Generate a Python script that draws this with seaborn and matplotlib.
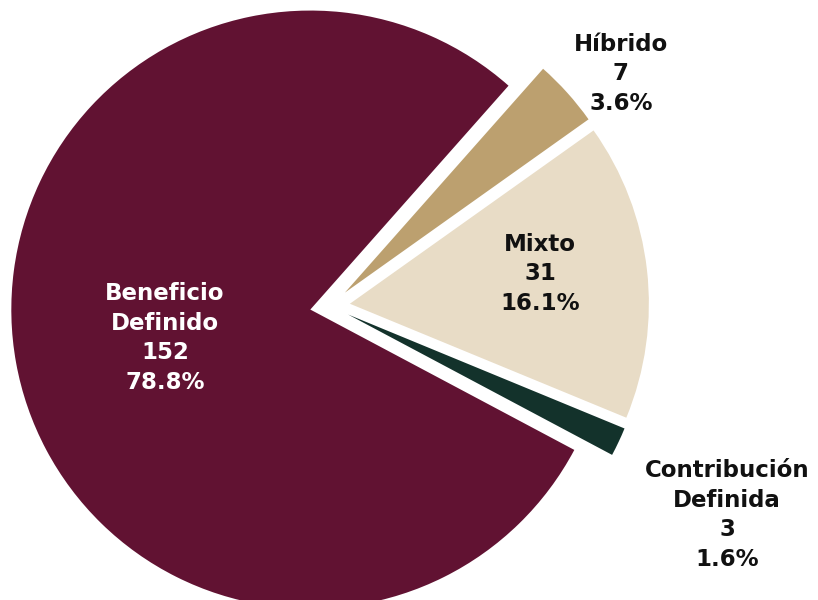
import matplotlib
matplotlib.use("Agg")
import matplotlib.pyplot as plt
import seaborn as sns

# Plan counts by scheme type
categories = ["Beneficio\nDefinido", "Híbrido", "Mixto", "Contribución\nDefinida"]
counts = [152, 7, 31, 3]
percent_labels = ["78.8%", "3.6%", "16.1%", "1.6%"]
colors = ["#611232", "#BCA06F", "#E8DCC6", "#13322B"]
text_colors = ["white", "#111111", "#111111", "#111111"]

sns.set_theme(style="white")
plt.rcParams["font.family"] = ["DejaVu Sans"]

fig = plt.figure(figsize=(8.18, 6.0), dpi=100)
ax = fig.add_axes([0, 0, 1, 1])

radius = 299
center = (330, 294)
# explode is given in data units here, since the radius is in pixel-like units
wedges, _ = ax.pie(
    counts,
    colors=colors,
    startangle=-28,
    counterclock=False,
    explode=[20] * len(counts),
    radius=radius,
    center=center,
    wedgeprops=dict(linewidth=0),
)

ax.set_xlim(0, 818)
ax.set_ylim(0, 600)
ax.set_aspect("equal")
ax.axis("off")

# label anchor points (pixel-like data units, y measured upward)
label_pos = [(165, 600 - 338), (621, 600 - 74), (540, 600 - 274), (727, 600 - 515)]
for cat, n, pct, (x, y), tc in zip(categories, counts, percent_labels, label_pos, text_colors):
    ax.text(x, y, f"{cat}\n{n}\n{pct}", ha="center", va="center",
            fontsize=16.5, fontweight="bold", color=tc, linespacing=1.36)

fig.savefig("out.png", dpi=100)
